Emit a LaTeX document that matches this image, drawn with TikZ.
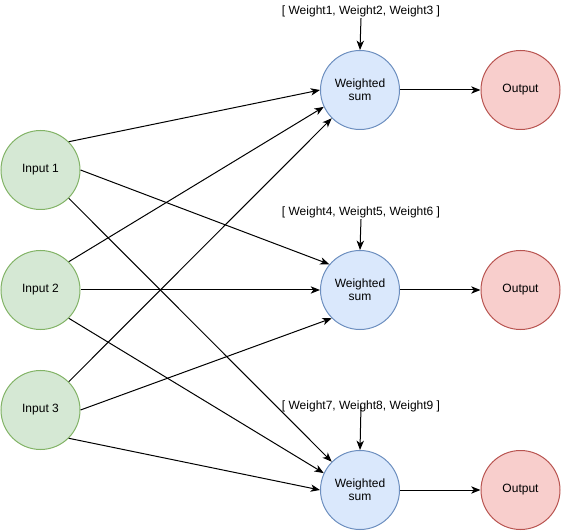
\documentclass[tikz,border=0pt]{standalone}
\usepackage{fontspec}
\setmainfont{Liberation Sans}
\usetikzlibrary{arrows.meta}
\definecolor{inpfill}{HTML}{D5E8D4}
\definecolor{inpline}{HTML}{82B366}
\definecolor{sumfill}{HTML}{DAE8FC}
\definecolor{sumline}{HTML}{6C8EBF}
\definecolor{outfill}{HTML}{F8CECC}
\definecolor{outline}{HTML}{B85450}

\begin{document}
\begin{tikzpicture}[x=0.75pt,y=-0.75pt, font=\fontsize{9}{10}\selectfont,
  neuron/.style={circle, draw, line width=0.75pt, minimum size=59.25pt, inner sep=0pt, align=center},
  inp/.style={neuron, fill=inpfill, draw=inpline},
  wsum/.style={neuron, fill=sumfill, draw=sumline},
  outnode/.style={neuron, fill=outfill, draw=outline},
  wlabel/.style={inner sep=1pt},
  conn/.style={-{Stealth[length=7pt,width=5.5pt,inset=2pt]}, line width=0.75pt}]
\useasboundingbox (0,0) rectangle (561,531);

\node[inp] (in1) at (40.5,170) {Input 1};
\node[inp] (in2) at (40.5,290) {Input 2};
\node[inp] (in3) at (40.5,410) {Input 3};

\node[wsum] (ws1) at (360,90) {Weighted\\sum};
\node[wsum] (ws2) at (360,290) {Weighted\\sum};
\node[wsum] (ws3) at (360,490) {Weighted\\sum};

\node[outnode] (out1) at (520.5,90) {Output};
\node[outnode] (out2) at (520.5,290) {Output};
\node[outnode] (out3) at (520.5,490) {Output};

\node[wlabel] (w1) at (361,11) {[ Weight1, Weight2, Weight3 ]};
\node[wlabel] (w2) at (361,212) {[ Weight4, Weight5, Weight6 ]};
\node[wlabel] (w3) at (361,406) {[ Weight7, Weight8, Weight9 ]};

% weights into the sums
\draw[conn] (w1.south) -- (ws1.north);
\draw[conn] (w2.south) -- (ws2.north);
\draw[conn] (w3.center) -- (ws3.north);

% inputs to sums
\draw[conn] (in1.45) -- (ws1.180);
\draw[conn] (in1.0) -- (ws2.140);
\draw[conn] (in1.-45) -- (ws3.135);
\draw[conn] (in2.45) -- (ws1.205);
\draw[conn] (in2.0) -- (ws2.180);
\draw[conn] (in2.-45) -- (ws3.155);
\draw[conn] (in3.45) -- (ws1.225);
\draw[conn] (in3.0) -- (ws2.225);
\draw[conn] (in3.-45) -- (ws3.180);

% sums to outputs
\draw[conn] (ws1) -- (out1);
\draw[conn] (ws2) -- (out2);
\draw[conn] (ws3) -- (out3);
\end{tikzpicture}
\end{document}
